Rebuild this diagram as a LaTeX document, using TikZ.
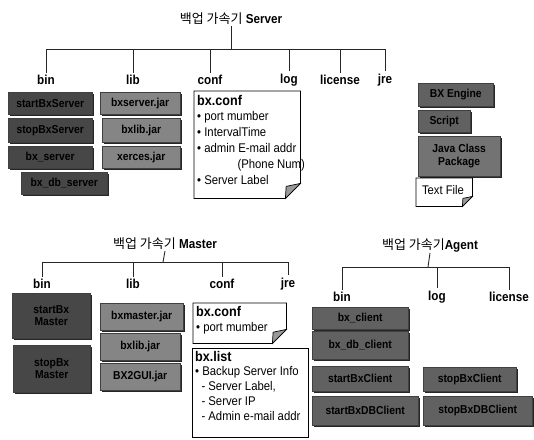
\documentclass[tikz,border=0pt]{standalone}
\usepackage{fontspec}
\setmainfont{Liberation Sans}[FakeStretch=0.9]
\newfontfamily\kr{Noto Sans CJK KR}
\usetikzlibrary{shadows,calc}
\newcommand\nhead{\bfseries\fontsize{14}{15}\selectfont}
\newcommand\foldnote[2]{%
  \draw[notebord] (#1.north west) -- (#1.north east) -- ([yshift=#2]#1.south east) -- ([xshift=-#2]#1.south east) -- (#1.south west) -- cycle;
  \draw[notebord, fill=black!40] ([yshift=#2]#1.south east) -- ([xshift=-#2]#1.south east) -- ([xshift=-#2*0.95, yshift=#2*0.8]#1.south east) -- cycle;
}
\begin{document}
\begin{tikzpicture}[x=1pt,y=-1pt,
  tree/.style={line width=0.9pt, black!85},
  dirlabel/.style={font=\bfseries\fontsize{13}{13}\selectfont, inner sep=2.5pt},
  titletext/.style={font=\fontsize{13}{15}\selectfont, inner sep=1pt},
  filebox/.style={anchor=north west, fill=black!62, draw=black!75, text=black,
    font=\bfseries\fontsize{11.5}{12.5}\selectfont, align=center, inner sep=1pt,
    drop shadow={shadow xshift=1.3pt, shadow yshift=-1.3pt, fill=black!85, opacity=1}},
  darkbox/.style={filebox, fill=black!72},
  libbox/.style={filebox, fill=black!48},
  noteframe/.style={anchor=north west, inner sep=0pt, draw=none},
  notebord/.style={draw=black, line width=0.7pt},
  notetext/.style={anchor=north west, align=left, inner sep=3pt,
    font=\fontsize{12.6}{16}\selectfont},
]
\useasboundingbox (0,0) rectangle (534,439);

% ---------------- Server ----------------
\node[titletext] (st) at (231,19) {{\kr 백업 가속기} \textbf{Server}};
\coordinate (sh) at (231,49);
\node[dirlabel] (sbin) at (46,80) {bin};
\node[dirlabel] (slib) at (133,80) {lib};
\node[dirlabel] (sconf) at (210,80) {conf};
\node[dirlabel] (slog) at (289,80) {log};
\node[dirlabel] (slic) at (340,80) {license};
\node[dirlabel] (sjre) at (385,80) {jre};
\draw[tree] (st.south) -- (sh);
\foreach \n in {sbin,slib,sconf,slog,slic,sjre} \draw[tree] (sh) -| (\n);

\node[darkbox, minimum width=84pt, minimum height=22pt] (sb1) at (8,92) {startBxServer};
\node[darkbox, minimum width=84pt, minimum height=24pt] (sb2) at (8,118) {stopBxServer};
\node[darkbox, minimum width=84pt, minimum height=22pt] (sb3) at (8,146) {bx\_server};
\node[darkbox, minimum width=86pt, minimum height=22pt] (sb4) at (21,172) {bx\_db\_server};

\node[libbox, minimum width=80pt, minimum height=22pt] (sl1) at (100,92) {bxserver.jar};
\node[libbox, minimum width=78pt, minimum height=24pt] (sl2) at (102,118) {bxlib.jar};
\node[libbox, minimum width=78pt, minimum height=22pt] (sl3) at (102,146) {xerces.jar};

\node[noteframe, minimum width=106pt, minimum height=107pt] (sconfnote) at (194,91) {};
\foldnote{sconfnote}{15pt}
\node[notetext] (sconftxt) at (194,92) {{\nhead bx.conf}\\[-1pt]
• port mumber\\ • IntervalTime\\ • admin E-mail addr\\ \hspace*{3.2em}(Phone Num)\\ • Server Label};

\node[filebox, minimum width=75pt, minimum height=23pt] (sj1) at (418,83) {BX Engine};
\node[filebox, minimum width=52pt, minimum height=22pt] (sj2) at (418,110) {Script};
\node[filebox, minimum width=82pt, minimum height=40pt, fill=black!55] (sj3) at (418,136) {Java Class\\Package};
\node[noteframe, minimum width=56pt, minimum height=28pt] (stxt) at (416,178) {};
\foldnote{stxt}{10pt}
\node[font=\fontsize{12.5}{13}\selectfont, inner sep=0pt] (stxtl) at (443,190) {Text File};

% ---------------- Master ----------------
\node[titletext] (mt) at (165,244) {{\kr 백업 가속기} \textbf{Master}};
\coordinate (mh) at (163,262);
\node[dirlabel] (mbin) at (42,284) {bin};
\node[dirlabel] (mlib) at (133,284) {lib};
\node[dirlabel] (mconf) at (222,284) {conf};
\node[dirlabel] (mjre) at (288,284) {jre};
\draw[tree] (mt.south) -- (mh);
\foreach \n in {mbin,mlib,mconf,mjre} \draw[tree] (mh) -| (\n);

\node[darkbox, minimum width=78pt, minimum height=45pt] (mb1) at (12,293) {startBx\\Master};
\node[darkbox, minimum width=77pt, minimum height=47pt] (mb2) at (13,345) {stopBx\\Master};

\node[libbox, minimum width=83pt, minimum height=27pt] (ml1) at (100,303) {bxmaster.jar};
\node[libbox, minimum width=80pt, minimum height=27pt] (ml2) at (100,333) {bxlib.jar};
\node[libbox, minimum width=80pt, minimum height=27pt] (ml3) at (100,363) {BX2GUI.jar};

\node[noteframe, minimum width=93pt, minimum height=40pt] (mconfnote) at (193,303) {};
\foldnote{mconfnote}{14pt}
\node[notetext] (mconftxt) at (193,303) {{\nhead bx.conf}\\[-1pt] • port mumber};

\node[noteframe, minimum width=116pt, minimum height=89pt, draw=black, line width=0.7pt] (mlist) at (192,348) {};
\node[notetext, font=\fontsize{12.6}{15}\selectfont] (mlisttxt) at (192,348) {{\nhead bx.list}\\[-1pt]
• Backup Server Info\\ \hspace*{0.5em}- Server Label,\\ \hspace*{0.5em}- Server IP\\ \hspace*{0.5em}- Admin e-mail addr};

% ---------------- Agent ----------------
\node[titletext] (at) at (430,245) {{\kr 백업 가속기}\textbf{Agent}};
\coordinate (ah) at (428,267);
\node[dirlabel] (abin) at (342,297) {bin};
\node[dirlabel] (alog) at (437,297) {log};
\node[dirlabel] (alic) at (509,297) {license};
\draw[tree] (at.south) -- (ah);
\foreach \n in {abin,alog,alic} \draw[tree] (ah) -| (\n);

\node[filebox, minimum width=96pt, minimum height=22pt] (ab1) at (312,307) {bx\_client};
\node[filebox, minimum width=96pt, minimum height=28pt] (ab2) at (312,331) {bx\_db\_client};
\node[filebox, minimum width=96pt, minimum height=25pt] (ab3) at (312,366) {startBxClient};
\node[filebox, minimum width=106pt, minimum height=29pt] (ab4) at (312,396) {startBxDBClient};

\node[filebox, minimum width=93pt, minimum height=24pt] (al1) at (423,367) {stopBxClient};
\node[filebox, minimum width=109pt, minimum height=29pt] (al2) at (423,396) {stopBxDBClient};
\end{tikzpicture}
\end{document}
